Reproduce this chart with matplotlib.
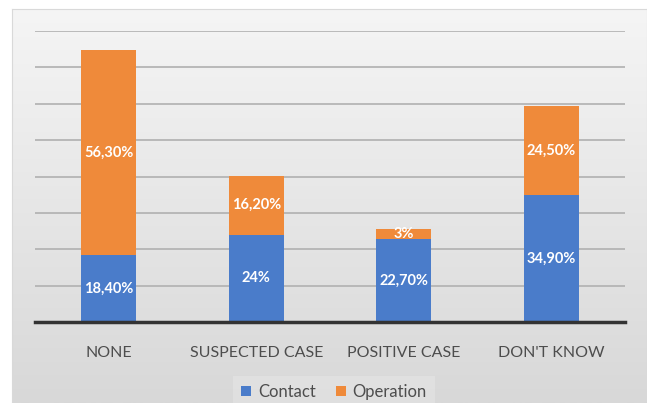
import matplotlib
matplotlib.use("Agg")
import matplotlib.pyplot as plt
import numpy as np

categories = ["NONE", "SUSPECTED CASE", "POSITIVE CASE", "DON'T KNOW"]
contact = [18.4, 24.0, 22.7, 34.9]
operation = [56.3, 16.2, 3.0, 24.5]
contact_labels = ["18,40%", "24%", "22,70%", "34,90%"]
operation_labels = ["56,30%", "16,20%", "3%", "24,50%"]

plt.rcParams['font.family'] = ['Lato', 'DejaVu Sans']

W, H = 647, 403
fig = plt.figure(figsize=(W / 100, H / 100), dpi=100, facecolor='white')

# chart area background (vertical grey gradient)
bg = fig.add_axes([12 / W, 0, 1 - 12 / W, 1 - 9 / H])
grad = np.linspace(0, 1, 256).reshape(-1, 1)
bg.imshow(grad, aspect='auto', cmap=matplotlib.colors.LinearSegmentedColormap.from_list(
    'g', ['#f5f5f5', '#d8d8d8']), extent=[0, 1, 1, 0])
bg.set_xticks([])
bg.set_yticks([])
for s in bg.spines.values():
    s.set_color('#d9d9d9')
    s.set_linewidth(0.8)

ax = fig.add_axes([35 / W, 1 - 322 / H, 590 / W, 291 / H])
ax.patch.set_alpha(0)
x = np.arange(len(categories))
blue = '#4A7CCA'
orange = '#EF8A3A'
b1 = ax.bar(x, contact, width=0.375, color=blue, label='Contact', zorder=3)
b2 = ax.bar(x, operation, width=0.375, bottom=contact, color=orange, label='Operation', zorder=3)

for i in range(len(categories)):
    ax.text(x[i], contact[i] / 2, contact_labels[i], ha='center', va='center',
            color='white', fontsize=10.5, fontweight='bold', zorder=4)
    ax.text(x[i], contact[i] + operation[i] / 2, operation_labels[i], ha='center', va='center',
            color='white', fontsize=10.5, fontweight='bold', zorder=4)

ax.set_xlim(-0.5, 3.5)
ax.set_ylim(0, 80)
ax.set_yticks(np.arange(10, 81, 10))
ax.yaxis.grid(True, color='#b0b0b0', linewidth=1.2, zorder=0)
ax.tick_params(axis='y', left=False, labelleft=False)
ax.tick_params(axis='x', bottom=False, pad=14, labelsize=11.5, labelcolor='#4d4d4d')
ax.set_xticks(x)
ax.set_xticklabels(categories)
for s in ['top', 'right', 'left']:
    ax.spines[s].set_visible(False)
ax.spines['bottom'].set_color('#333333')
ax.spines['bottom'].set_linewidth(2.5)
ax.spines['bottom'].set_zorder(5)

leg = fig.legend(handles=[b1, b2], loc='center', bbox_to_anchor=(334 / W, 1 - 392 / H),
                 ncol=2, frameon=True, fontsize=12, handlelength=0.6, handleheight=0.6,
                 handletextpad=0.4, columnspacing=1.2, borderpad=0.5)
leg.get_frame().set_facecolor('#e2e2e2')
leg.get_frame().set_edgecolor('none')
leg.get_frame().set_boxstyle('square', pad=0)
for t in leg.get_texts():
    t.set_color('#4d4d4d')

fig.savefig('out.png', dpi=100, facecolor='white')
